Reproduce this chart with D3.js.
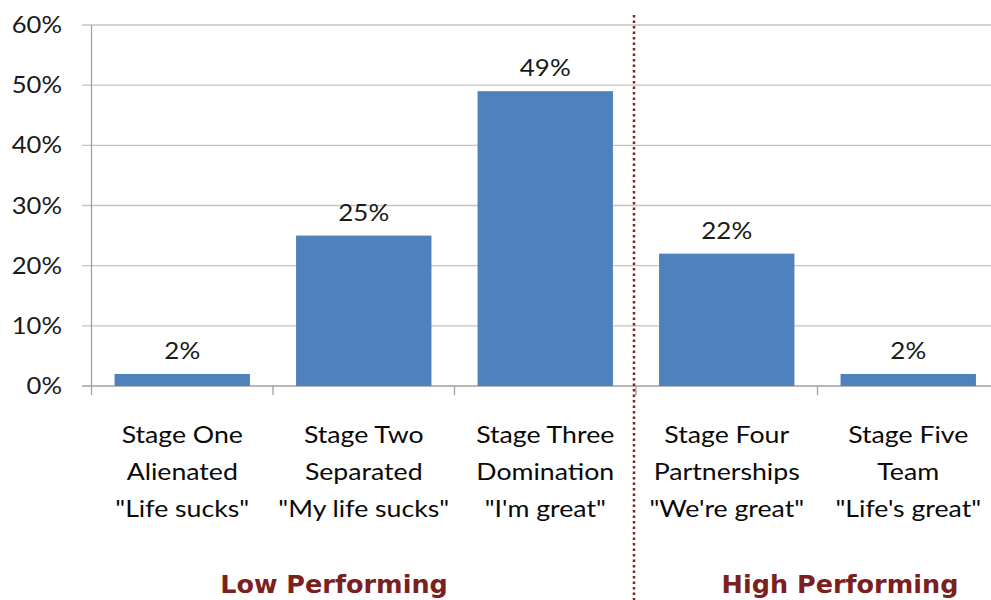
<!DOCTYPE html>
<html>
<head>
<meta charset="utf-8">
<script src="https://cdn.jsdelivr.net/npm/d3@7"></script>
<style>
  body { margin: 0; background: #fff; }
  text { font-family: Lato, "Open Sans", sans-serif; }
</style>
</head>
<body>
<script>
// chart values
var stages = ["Stage One", "Stage Two", "Stage Three", "Stage Four", "Stage Five"];
var stageNames = ["Alienated", "Separated", "Domination", "Partnerships", "Team"];
var stageQuotes = ["\"Life sucks\"", "\"My life sucks\"", "\"I'm great\"", "\"We're great\"", "\"Life's great\""];
var shares = [0.02, 0.25, 0.49, 0.22, 0.02];
var yTicks = [0, 0.1, 0.2, 0.3, 0.4, 0.5, 0.6];
var groups = ["Low Performing", "High Performing"];

var width = 991;
var height = 600;

var svg = d3.select("body")
            .append("svg")
            .attr("width", width)
            .attr("height", height);

var x = d3.scaleBand()
          .domain(stages)
          .range([91.5, 999])
          .paddingInner(0.254)
          .paddingOuter(0.127);

var y = d3.scaleLinear()
          .domain([0, 0.6])
          .range([386, 25]);

var pct = d3.format(".0%");

//gridlines
svg.selectAll("line.grid")
   .data(yTicks)
   .enter()
   .append("line")
   .attr("class", "grid")
   .attr("x1", 82)
   .attr("x2", width)
   .attr("y1", d => y(d))
   .attr("y2", d => y(d))
   .attr("stroke", d => d === 0 ? "#a0a0a0" : "#c4c4c4")
   .attr("stroke-width", 1.3);

//y axis line
svg.append("line")
   .attr("x1", 91.5).attr("x2", 91.5)
   .attr("y1", y(0.6)).attr("y2", 395)
   .attr("stroke", "#a0a0a0")
   .attr("stroke-width", 1.3);

//category ticks
svg.selectAll("line.xtick")
   .data(stages.slice(1))
   .enter()
   .append("line")
   .attr("class", "xtick")
   .attr("x1", d => x(d) - x.step() * x.paddingInner() / 2)
   .attr("x2", d => x(d) - x.step() * x.paddingInner() / 2)
   .attr("y1", 386).attr("y2", 395)
   .attr("stroke", "#a0a0a0")
   .attr("stroke-width", 1.3);

//y labels (picture is a bit stretched sideways)
svg.selectAll("text.ylab")
   .data(yTicks)
   .enter()
   .append("text")
   .attr("class", "ylab")
   .attr("transform", d => "translate(62," + (y(d) + 8) + ") scale(1.14,1)")
   .attr("text-anchor", "end")
   .attr("font-size", 22.5)
   .attr("fill", "#1a1a1a")
   .text(d => pct(d));

//bars
svg.selectAll("rect.bar")
   .data(shares)
   .enter()
   .append("rect")
   .attr("class", "bar")
   .attr("x", (d, i) => x(stages[i]))
   .attr("width", x.bandwidth())
   .attr("y", d => y(d))
   .attr("height", d => y(0) - y(d))
   .attr("fill", "#4f81bd");

//value labels
svg.selectAll("text.val")
   .data(shares)
   .enter()
   .append("text")
   .attr("class", "val")
   .attr("transform", (d, i) => "translate(" + (x(stages[i]) + x.bandwidth() / 2) + "," + (y(d) - 15) + ") scale(1.08,1)")
   .attr("text-anchor", "middle")
   .attr("font-size", 24)
   .attr("fill", "#1a1a1a")
   .text(d => pct(d));

//category labels, three lines each
var lines = [stages, stageNames, stageQuotes];
lines.forEach(function(arr, k) {
    svg.selectAll("text.cat" + k)
       .data(arr)
       .enter()
       .append("text")
       .attr("class", "cat" + k)
       .attr("transform", (d, i) => "translate(" + (x(stages[i]) + x.bandwidth() / 2) + "," + (443 + k * 37) + ") scale(1.16,1)")
       .attr("text-anchor", "middle")
       .attr("font-size", 23)
       .attr("fill", "#0a0a0a")
       .text(d => d);
});

//divider between low and high performing
var divX = x(stages[3]) - x.step() * x.paddingInner() / 2 - 2;
svg.append("line")
   .attr("x1", divX).attr("x2", divX)
   .attr("y1", 15).attr("y2", height)
   .attr("stroke", "#7b2525")
   .attr("stroke-width", 2.5)
   .attr("stroke-dasharray", "2.5,3");

//group labels
svg.selectAll("text.grp")
   .data(groups)
   .enter()
   .append("text")
   .attr("class", "grp")
   .attr("x", (d, i) => i === 0 ? 334 : 840)
   .attr("y", 593)
   .attr("text-anchor", "middle")
   .attr("font-size", 25.5)
   .style("font-weight", "bold")
   .style("font-family", "'DejaVu Sans', sans-serif")
   .attr("fill", "#7b1f1f")
   .text(d => d);
</script>
</body>
</html>
